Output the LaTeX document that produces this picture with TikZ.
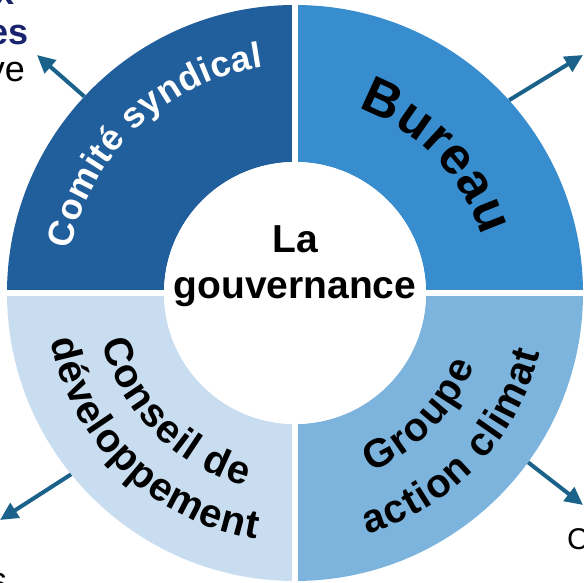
\documentclass[tikz,border=0pt]{standalone}
\usepackage{fontspec}
\setmainfont{Liberation Sans}
\usetikzlibrary{arrows.meta,decorations.text}

\definecolor{quadTL}{RGB}{33,94,156}
\definecolor{quadTR}{RGB}{56,141,206}
\definecolor{quadBR}{RGB}{125,180,221}
\definecolor{quadBL}{RGB}{200,221,240}
\definecolor{arrowblue}{RGB}{26,98,138}
\definecolor{navytext}{RGB}{25,35,110}

\newcommand\ringwhite{\fontsize{36}{42}\selectfont\bfseries\color{white}}
\newcommand\ringbig{\fontsize{52}{60}\selectfont\bfseries\color{black}}
\newcommand\ringdark{\fontsize{40}{48}\selectfont\bfseries\color{black}}

\begin{document}
\begin{tikzpicture}[x=1pt,y=1pt,
  arr/.style={draw=arrowblue,line width=4pt,-{Triangle[length=18pt,width=17pt]}},
  hub/.style={circle,fill=white,inner sep=0pt,minimum size=262pt},
  side/.style={inner sep=0pt,font=\fontsize{36}{40}\selectfont}]
\useasboundingbox (-295,-290) rectangle (289,293);

% quarters of the ring
\foreach \a/\c in {90/quadTL,0/quadTR,-90/quadBR,180/quadBL}
  \fill[\c] (\a:131) arc[start angle=\a,end angle={\a+90},radius=131]
    -- ({\a+90}:288) arc[start angle={\a+90},end angle=\a,radius=288] -- cycle;
\draw[white,line width=6pt] (0,-292) -- (0,292) (-292,0) -- (292,0);

\node[circle,minimum size=576pt,inner sep=0pt] (ring) at (0,0) {};
\node[hub] (hub) at (0,0) {};
\node[font=\fontsize{39}{46}\selectfont\bfseries,align=center] (gouv) at (0,27) {La\\gouvernance};

% labels along the ring
\path[decorate,decoration={text along path,text align={fit to path},
  text={|\ringwhite|Comité syndical}}]
  (169:228) arc[start angle=169,end angle=98,radius=228];
\path[decorate,decoration={text along path,text align={fit to path},
  text={|\ringbig|Bureau}}]
  (71:195) arc[start angle=71,end angle=17,radius=195];
\path[decorate,decoration={text along path,text align={fit to path},
  text={|\ringdark|Conseil de}}]
  (194.3:199) arc[start angle=194.3,end angle=255.6,radius=199];
\path[decorate,decoration={text along path,text align={fit to path},
  text={|\ringdark|développement}}]
  (191:249) arc[start angle=191,end angle=261,radius=249];
\path[decorate,decoration={text along path,text align={fit to path},
  text={|\ringdark|Groupe}}]
  (-67:194) arc[start angle=-67,end angle=-22,radius=194];
\path[decorate,decoration={text along path,text align={fit to path},
  text={|\ringdark|action climat}}]
  (-73.3:252) arc[start angle=-73.3,end angle=-13.7,radius=252];

% arrows to the outside
\coordinate (t1) at (-258,238);
\coordinate (t2) at (288,238);
\coordinate (t3) at (-295,-227);
\coordinate (t4) at (288,-212);
\draw[arr] (ring.137) -- (t1);
\draw[arr] (ring.42) -- (t2);
\draw[arr] (ring.219) -- (t3);
\draw[arr] (ring.-36) -- (t4);

% cut text at the borders
\node[side,anchor=base east,text=navytext,font=\fontsize{36}{40}\selectfont\bfseries] (f1) at (-280,288) {x};
\node[side,anchor=base east,text=navytext,font=\fontsize{36}{40}\selectfont\bfseries] (f2) at (-266,248) {es};
\node[side,anchor=base east] (f3) at (-270,211) {ve};
\node[side,anchor=base east] (f4) at (-288,-300) {s};
\node[side,anchor=base west,font=\fontsize{30}{36}\selectfont] (f5) at (272,-257) {C};
\end{tikzpicture}
\end{document}
